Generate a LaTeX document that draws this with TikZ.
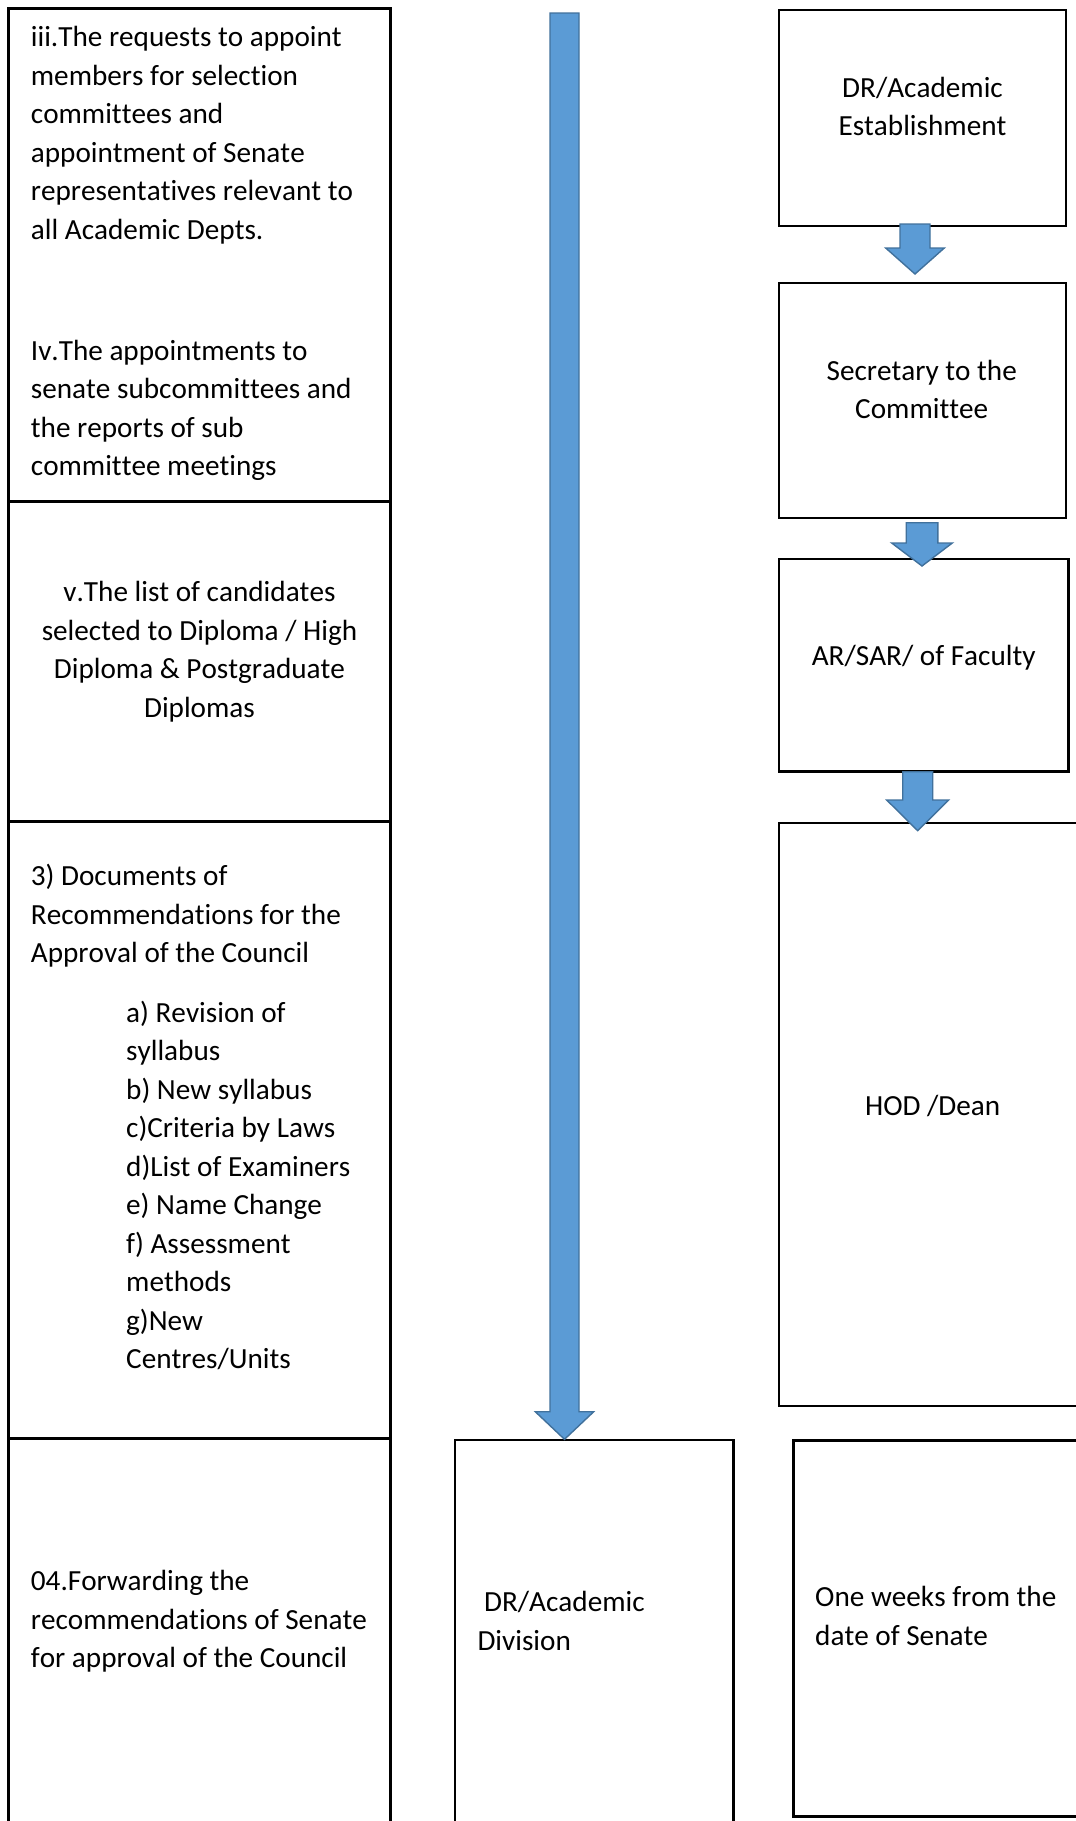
\documentclass[tikz,border=0pt]{standalone}
\usepackage{fontspec}
\setmainfont{Carlito}[Ligatures={NoCommon}, Kerning=Off]
\usetikzlibrary{calc,fit}
\definecolor{arrowfill}{HTML}{5B9BD5}
\definecolor{arrowline}{HTML}{41719C}
\newcommand\bodyfont{\fontsize{29.2pt}{38.5pt}\selectfont\frenchspacing}
\tikzset{
  cell/.style={draw=black, line width=3pt, inner sep=0pt},
  stepbox/.style={draw=black, line width=2.6pt, inner sep=0pt},
  txt/.style={inner sep=0pt, font=\bodyfont},
  blockarrow/.style={fill=arrowfill, draw=arrowline, line width=1.4pt, line join=miter},
}
% block arrow pointing down: start, tip, shaft half-width, head half-width, head length
\newcommand\downblock[5]{%
  \draw[blockarrow] let \p1=(#1), \p2=(#2) in
    (\x1-#3pt,\y1) -- (\x1+#3pt,\y1) -- (\x1+#3pt,\y2+#5pt) -- (\x1+#4pt,\y2+#5pt)
    -- (\x2,\y2) -- (\x1-#4pt,\y2+#5pt) -- (\x1-#3pt,\y2+#5pt) -- cycle;}
\newcommand\lefttext[2]{\parbox[t]{#1}{\raggedright #2}}
\newcommand\midtext[2]{\parbox[t]{#1}{\centering #2}}
\begin{document}
\begin{tikzpicture}[x=1pt, y=-1pt]
  \useasboundingbox (0,0) rectangle (1076,1821);
  \clip (0,0) rectangle (1076,1821);
  \fill[white] (0,0) rectangle (1076,1821);

  % left column of agenda items
  \node[cell, fit={(8,8) (390,501)}] (c1) {};
  \node[cell, fit={(8,501) (390,821)}] (c2) {};
  \node[cell, fit={(8,821) (390,1438)}] (c3) {};
  \node[cell, fit={(8,1438) (390,1860)}] (c4) {};

  \node[txt, anchor=base west] (t1) at (30.7,46.7) {\lefttext{360pt}{iii.The requests to appoint\\members for selection\\committees and\\appointment of Senate\\representatives relevant to\\all Academic Depts.}};
  \node[txt, anchor=base west] (t2) at (30.7,360) {\lefttext{360pt}{Iv.The appointments to\\senate subcommittees and\\the reports of sub\\committee meetings}};
  \node[txt, anchor=base] (t3) at (199.5,601.7) {\midtext{370pt}{v.The list of candidates\\selected to Diploma / High\\Diploma \& Postgraduate\\Diplomas}};
  \node[txt, anchor=base west] (t4) at (30.7,885.7) {\lefttext{360pt}{3) Documents of\\Recommendations for the\\Approval of the Council}};
  \node[txt, anchor=base west] (t5) at (126,1022.4) {\lefttext{260pt}{a) Revision of\\syllabus\\b) New syllabus\\c)Criteria by Laws\\d)List of Examiners\\e) Name Change\\f) Assessment\\methods\\g)New\\Centres/Units}};
  \node[txt, anchor=base west] (t6) at (30.7,1590.7) {\lefttext{360pt}{04.Forwarding the\\recommendations of Senate\\for approval of the Council}};

  % right column of offices
  \node[stepbox, fit={(779,10) (1066,226)}] (b1) {};
  \node[stepbox, fit={(779,283) (1066,518)}] (b2) {};
  \node[stepbox, fit={(779,559) (1068.7,771.7)}] (b3) {};
  \node[stepbox, fit={(779,823) (1100,1406)}] (b4) {};
  \node[stepbox, fit={(455,1440) (733.3,1860)}] (b5) {};
  \node[stepbox, fit={(793.3,1440.7) (1100,1816.7)}] (b6) {};

  \node[txt, anchor=base] (r1) at (922.5,97) {\midtext{280pt}{DR/Academic\\Establishment}};
  \node[txt, anchor=base] (r2) at (921.7,380) {\midtext{280pt}{Secretary to the\\Committee}};
  \node[txt, anchor=base] (r3) at (923.7,665) {\midtext{280pt}{AR/SAR/ of Faculty}};
  \node[txt, anchor=base] (r4) at (932.7,1115) {\midtext{280pt}{HOD /Dean}};
  \node[txt, anchor=base west] (r5) at (477.3,1611.7) {\lefttext{250pt}{\hspace*{0.226em}DR/Academic\\Division}};
  \node[txt, anchor=base west] (r6) at (815,1606.7) {\lefttext{270pt}{One weeks from the\\date of Senate}};

  % arrow ends
  \coordinate (bigtop) at (564.5,13);
  \coordinate (bigtip) at (564.5,1439.3);
  \coordinate (a1s) at (915,224);
  \coordinate (a1e) at (915,274);
  \coordinate (a2s) at (922,522.7);
  \coordinate (a2e) at (922,566);
  \coordinate (a3s) at (917.7,771.7);
  \coordinate (a3e) at (917.7,830.7);

  \downblock{bigtop}{bigtip}{14.5}{29.2}{27.6}
  \downblock{a1s}{a1e}{15}{29.3}{26}
  \downblock{a2s}{a2e}{15.8}{30.3}{23}
  \downblock{a3s}{a3e}{15}{31}{30.7}
\end{tikzpicture}
\end{document}
